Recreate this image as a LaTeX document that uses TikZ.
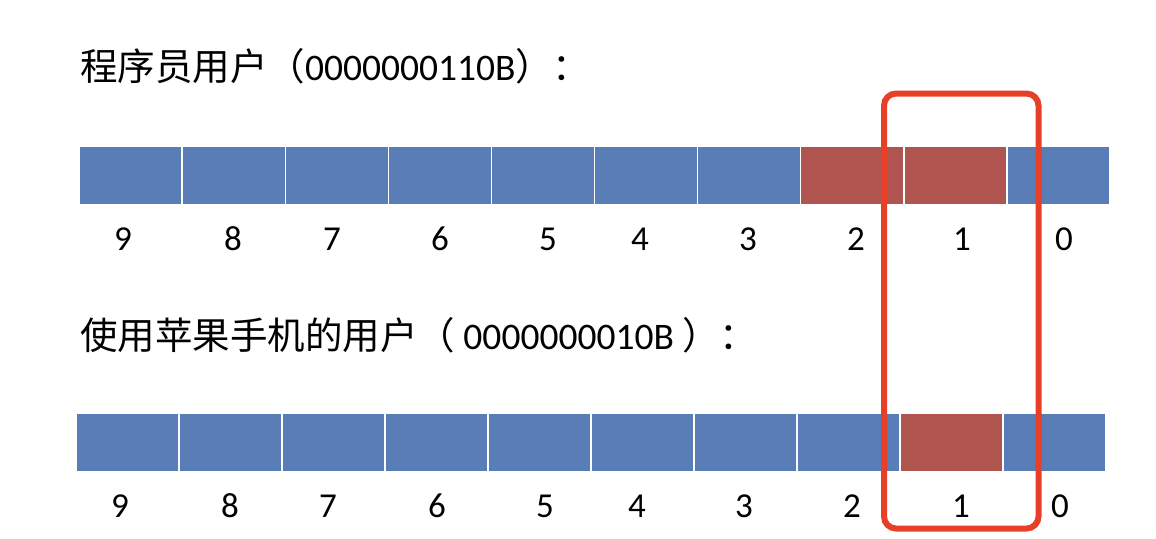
\documentclass[tikz,border=0pt]{standalone}
\usepackage{fontspec}
\setmainfont{Carlito}
\newfontfamily\cjk{Noto Sans CJK SC}
\definecolor{cellblue}{RGB}{89,125,182}
\definecolor{cellred}{RGB}{176,84,79}
\definecolor{markred}{RGB}{232,64,40}

\begin{document}
\begin{tikzpicture}[x=0.5pt,y=-0.5pt,
  every node/.style={inner sep=0pt,outer sep=0pt},
  bitcell/.style={draw=white,line width=0.7pt,anchor=north west,
    minimum width=51.55pt,minimum height=29.5pt},
  bitnum/.style={anchor=base,font=\fontsize{17.5pt}{17.5pt}\selectfont},
  rowtitle/.style={anchor=base west,font=\fontsize{18.75pt}{18.75pt}\selectfont}]
  % canvas in source pixels (1156 x 538), y runs downwards
  \path[use as bounding box] (0,0) rectangle (1156,538);
  % ---- titles ----
  \node[rowtitle] (title1) at (80,80) {{\cjk 程序员用户（}0000000110B{\cjk ）：}};
  \node[rowtitle] (title2) at (80,349) {{\cjk 使用苹果手机的用户（} 0000000010B {\cjk ）：}};
  % ---- upper register: bits 2 and 1 set ----
  \foreach \b/\col [count=\i from 0] in {9/cellblue,8/cellblue,7/cellblue,6/cellblue,5/cellblue,
      4/cellblue,3/cellblue,2/cellred,1/cellred,0/cellblue}
    \node[bitcell,fill=\col] (u\b) at (79+103.1*\i,146) {};
  % ---- lower register: bit 1 set ----
  \foreach \b/\col [count=\i from 0] in {9/cellblue,8/cellblue,7/cellblue,6/cellblue,5/cellblue,
      4/cellblue,3/cellblue,2/cellblue,1/cellred,0/cellblue}
    \node[bitcell,fill=\col] (l\b) at (76+103*\i,413) {};
  % ---- bit numbers (x = ink centre in source) ----
  \foreach \b/\x in {9/123,8/233,7/332,6/440,5/548,4/640,3/748,2/856,1/962,0/1064}
    \node[bitnum] (un\b) at (\x,250) {\b};
  \foreach \b/\x in {9/120,8/230,7/328,6/437,5/545,4/637,3/744,2/852,1/961,0/1060}
    \node[bitnum] (ln\b) at (\x,517) {\b};
  % ---- marker round bit 1 ----
  \draw[markred,line width=3pt,rounded corners=6pt] (884,93.5) rectangle (1038.5,528.5);
\end{tikzpicture}
\end{document}
